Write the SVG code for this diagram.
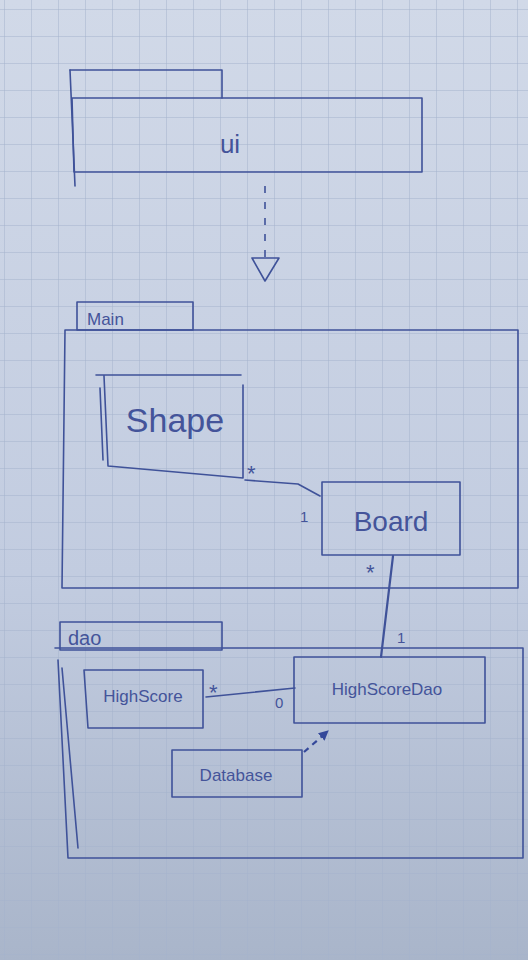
<svg xmlns="http://www.w3.org/2000/svg" width="528" height="960" viewBox="0 0 528 960">
<defs>
<linearGradient id="paper" x1="0" y1="0" x2="0" y2="1">
<stop offset="0" stop-color="#d1d9e8"/>
<stop offset="0.6" stop-color="#c2cce0"/>
<stop offset="1" stop-color="#a9b5ca"/>
</linearGradient>
<pattern id="grid" width="27" height="27" patternUnits="userSpaceOnUse" x="5" y="10">
<path d="M27 0 V27 M0 27 H27" fill="none" stroke="#a5b3cc" stroke-width="1"/>
</pattern>
<marker id="filled" viewBox="0 0 10 10" refX="9" refY="5" markerWidth="10" markerHeight="10" markerUnits="userSpaceOnUse" orient="auto">
<path d="M0 0 L10 5 L0 10 Z" fill="#34489a"/>
</marker>
</defs>
<style>
.pen{fill:none;stroke:#3f5299;stroke-width:1.6;stroke-linejoin:round;stroke-linecap:round}
.dash{fill:none;stroke:#3f5299;stroke-width:1.6;stroke-dasharray:7 9}
.dash2{fill:none;stroke:#34489a;stroke-width:2.2;stroke-dasharray:6 5}
text{font-family:"Liberation Sans","DejaVu Sans",sans-serif;fill:#44549a}
.big{font-size:34px}
.mid{font-size:28px}
.sm{font-size:17px}
.lbl{font-size:15px}
.star{font-size:22px}
</style>
<rect width="528" height="960" fill="url(#paper)"/>
<rect width="528" height="960" fill="url(#grid)"/>

<g id="ui">
<path class="pen" d="M70 70 H222 V98"/>
<path class="pen" d="M72 98 H422 V172 H74 Z"/>
<path class="pen" d="M70 70 L75 186"/>
<text x="230" y="153" text-anchor="middle" style="font-size:26px">ui</text>
</g>

<g id="Main">
<path class="pen" d="M77 302 H193 V330 H77 Z"/>
<text x="87" y="325" style="font-size:17px">Main</text>
<path class="pen" d="M65 330 H518 V588 H62 Z"/>
</g>

<g id="Shape">
<path class="pen" d="M96 375 H241 M243 385 V478 M108 466 L243 478 M104 376 L108 466"/>
<path class="pen" d="M100 388 L103 460"/>
<text x="175" y="432" class="big" text-anchor="middle">Shape</text>
</g>

<g id="Board">
<path class="pen" d="M322 482 H460 V555 H322 Z"/>
<text x="391" y="531" class="mid" text-anchor="middle">Board</text>
</g>

<g id="dao">
<path class="pen" d="M60 622 H222 V650 H60 Z"/>
<text x="68" y="645" style="font-size:20px">dao</text>
<path class="pen" d="M55 648 H523 V858 H68 L58 660"/>
<path class="pen" d="M62 668 L78 848"/>
</g>

<g id="HighScore">
<path class="pen" d="M84 670 H203 V728 H88 Z"/>
<text x="143" y="702" class="sm" text-anchor="middle">HighScore</text>
</g>

<g id="HighScoreDao">
<path class="pen" d="M294 657 H485 V723 H294 Z"/>
<text x="387" y="695" class="sm" text-anchor="middle">HighScoreDao</text>
</g>

<g id="Database">
<path class="pen" d="M172 750 H302 V797 H172 Z"/>
<text x="236" y="781" class="sm" text-anchor="middle">Database</text>
</g>

<g id="connectors">
<path class="dash" d="M265 186 V257"/>
<path class="pen" d="M252 258 H279 L265 281 Z"/>
<path class="pen" d="M245 480 L298 484 L320 496"/>
<text x="247" y="481" class="star">*</text>
<text x="300" y="522" class="lbl">1</text>
<path class="pen" d="M393 556 L381 657" style="stroke-width:2.2"/>
<text x="366" y="580" class="star">*</text>
<text x="397" y="643" class="lbl">1</text>
<path class="pen" d="M206 697 L295 688"/>
<text x="209" y="700" class="star">*</text>
<text x="275" y="708" class="lbl">0</text>
<path class="dash2" d="M304 752 L328 731" marker-end="url(#filled)"/>
</g>
</svg>
